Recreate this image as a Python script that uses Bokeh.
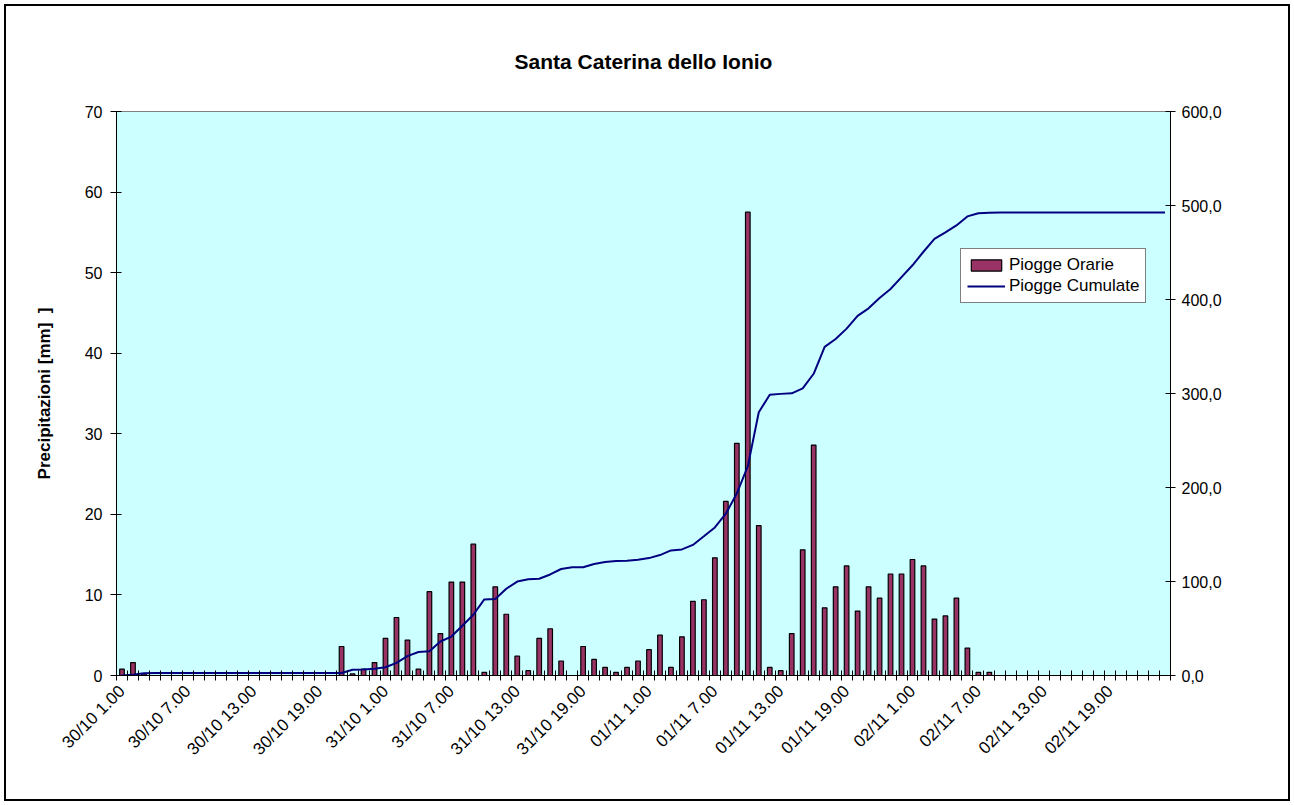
import math
from bokeh.plotting import figure
from bokeh.models import Range1d, LinearAxis, FixedTicker, Legend, LegendItem, ColumnDataSource
from bokeh.embed import file_html
from bokeh.resources import INLINE

chart_title = "Santa Caterina dello Ionio"
y_left_label = "Precipitazioni [mm]\u00a0\u00a0]"
series_bar_name = "Piogge Orarie"
series_line_name = "Piogge Cumulate"

x_tick_labels = ["30/10 1.00", "30/10 7.00", "30/10 13.00", "30/10 19.00",
                 "31/10 1.00", "31/10 7.00", "31/10 13.00", "31/10 19.00",
                 "01/11 1.00", "01/11 7.00", "01/11 13.00", "01/11 19.00",
                 "02/11 1.00", "02/11 7.00", "02/11 13.00", "02/11 19.00"]
label_every = 6

hourly = [0.8, 1.6, 0.2, 0, 0, 0, 0, 0, 0, 0,
          0, 0, 0, 0, 0, 0, 0, 0, 0, 0,
          3.6, 0.2, 0.8, 1.6, 4.6, 7.2, 4.4, 0.8, 10.4, 5.2,
          11.6, 11.6, 16.3, 0.4, 11.0, 7.6, 2.4, 0.6, 4.6, 5.8,
          1.8, 0, 3.6, 2.0, 1.0, 0.4, 1.0, 1.8, 3.2, 5.0,
          1.0, 4.8, 9.2, 9.4, 14.6, 21.6, 28.8, 57.5, 18.6, 1.0,
          0.6, 5.2, 15.6, 28.6, 8.4, 11.0, 13.6, 8.0, 11.0, 9.6,
          12.6, 12.6, 14.4, 13.6, 7.0, 7.4, 9.6, 3.4, 0.4, 0.4,
          0, 0, 0, 0, 0, 0, 0, 0, 0, 0,
          0, 0, 0, 0, 0, 0]

cumulative = [0, 0.8, 2.4, 2.6, 2.6, 2.6, 2.6, 2.6, 2.6, 2.6,
              2.6, 2.6, 2.6, 2.6, 2.6, 2.6, 2.6, 2.6, 2.6, 2.6,
              2.6, 6.2, 6.4, 7.2, 8.8, 13.4, 20.6, 25.0, 25.8, 36.2,
              41.4, 53.0, 64.6, 80.9, 81.3, 92.3, 99.9, 102.3, 102.9, 107.5,
              113.3, 115.1, 115.1, 118.7, 120.7, 121.7, 122.1, 123.1, 124.9, 128.1,
              133.1, 134.1, 138.9, 148.1, 157.5, 172.1, 193.7, 222.5, 280.0, 298.6,
              299.6, 300.2, 305.4, 321.0, 349.6, 358.0, 369.0, 382.6, 390.6, 401.6,
              411.2, 423.8, 436.4, 450.8, 464.4, 471.4, 478.8, 488.4, 491.8, 492.2,
              492.6, 492.6, 492.6, 492.6, 492.6, 492.6, 492.6, 492.6, 492.6, 492.6,
              492.6, 492.6, 492.6, 492.6, 492.6, 492.6]

left_ticks = [0, 10, 20, 30, 40, 50, 60, 70]
right_ticks = [0, 100, 200, 300, 400, 500, 600]
right_tick_labels = ["0,0", "100,0", "200,0", "300,0", "400,0", "500,0", "600,0"]

FONT = "Liberation Sans"
n = len(hourly)
src = ColumnDataSource(dict(x=[i + 0.5 for i in range(n)], h=hourly, c=cumulative))

p = figure(frame_width=1054, frame_height=564,
           min_border_left=110, min_border_right=118,
           min_border_top=105, min_border_bottom=124,
           x_range=Range1d(0, n), y_range=Range1d(0, 70),
           output_backend="svg", toolbar_location=None,
           background_fill_color="#CCFFFF", border_fill_color="white")
p.styles = {"border": "2px solid black", "margin": "4px"}
p.outline_line_color = "#808080"
p.outline_line_width = 1
p.xgrid.visible = False
p.ygrid.visible = False

p.extra_y_ranges = {"cum": Range1d(0, 600)}

bars = p.vbar(x="x", top="h", width=0.42, source=src,
              fill_color="#993366", line_color="black", line_width=1.2)
line = p.line(x="x", y="c", source=src, y_range_name="cum",
              line_color="#000080", line_width=2)

# title
p.title.text = chart_title
p.title.align = "center"
p.title.text_font = FONT
p.title.text_font_style = "bold"
p.title.text_font_size = "21px"
p.title.text_color = "black"
p.title.standoff = 77

# x axis
xa = p.xaxis[0]
major = [k * label_every + 0.5 for k in range(len(x_tick_labels))]
xa.ticker = FixedTicker(ticks=major, minor_ticks=list(range(n + 1)))
xa.major_label_overrides = {major[k]: x_tick_labels[k] for k in range(len(x_tick_labels))}
xa.major_label_orientation = math.pi / 4
xa.major_tick_in = 0
xa.major_tick_out = 0
xa.minor_tick_in = 5
xa.minor_tick_out = 5
xa.minor_tick_line_color = "black"
xa.axis_line_color = "black"
xa.major_label_standoff = 8
xa.major_label_text_font = FONT
xa.major_label_text_font_size = "17px"
xa.major_label_text_color = "black"

# left axis
ya = p.yaxis[0]
ya.ticker = FixedTicker(ticks=left_ticks)
ya.major_tick_in = 5
ya.major_tick_out = 6
ya.minor_tick_in = 0
ya.minor_tick_out = 0
ya.axis_line_color = "black"
ya.major_tick_line_color = "black"
ya.major_label_standoff = 8
ya.major_label_text_font = FONT
ya.major_label_text_font_size = "16px"
ya.major_label_text_color = "black"
ya.axis_label = y_left_label
ya.axis_label_text_font = FONT
ya.axis_label_text_font_style = "bold"
ya.axis_label_text_font_size = "17px"
ya.axis_label_text_color = "black"
ya.axis_label_standoff = 28

# right axis
ra = LinearAxis(y_range_name="cum", ticker=FixedTicker(ticks=right_ticks))
ra.major_label_overrides = {right_ticks[k]: right_tick_labels[k] for k in range(len(right_ticks))}
ra.major_tick_in = 5
ra.major_tick_out = 5
ra.minor_tick_in = 0
ra.minor_tick_out = 0
ra.axis_line_color = "black"
ra.major_tick_line_color = "black"
ra.major_label_standoff = 6
ra.major_label_text_font = FONT
ra.major_label_text_font_size = "16px"
ra.major_label_text_color = "black"
p.add_layout(ra, "right")

legend = Legend(items=[LegendItem(label=series_bar_name, renderers=[bars]),
                       LegendItem(label=series_line_name, renderers=[line])],
                location=(844, 372))
legend.border_line_color = "black"
legend.border_line_width = 1
legend.background_fill_color = "white"
legend.background_fill_alpha = 1
legend.label_text_font = FONT
legend.label_text_font_size = "17px"
legend.label_text_color = "black"
legend.glyph_width = 38
legend.glyph_height = 14
legend.label_height = 14
legend.label_standoff = 4
legend.spacing = 1
legend.padding = 6
legend.margin = 0
p.add_layout(legend)

open("out.html", "w").write(file_html(p, INLINE))
